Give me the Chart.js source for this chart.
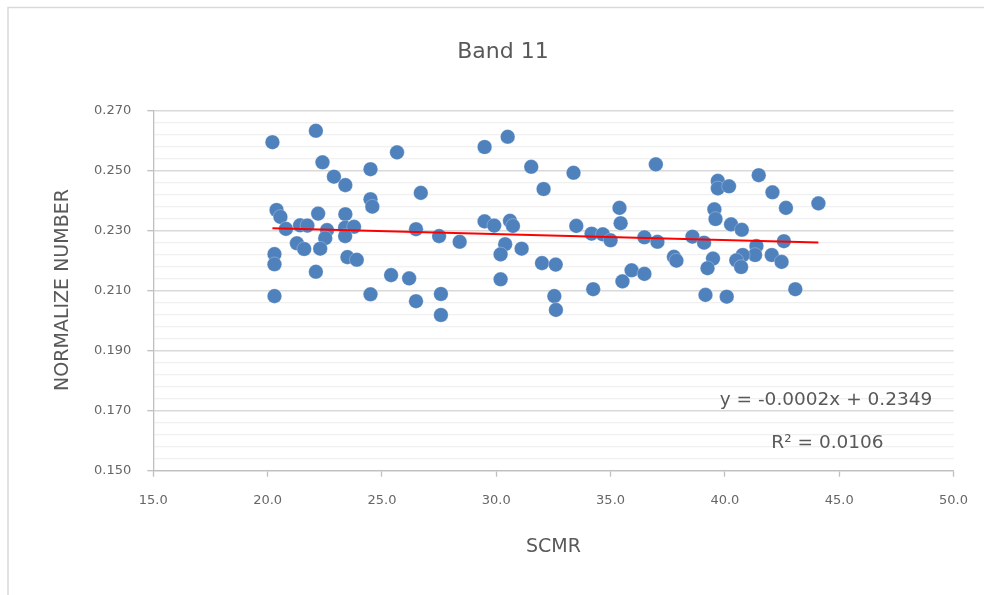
<!DOCTYPE html>
<html>
<head>
<meta charset="utf-8">
<title>Band 11</title>
<script src="https://cdn.jsdelivr.net/npm/chart.js@4.4.1/dist/chart.umd.min.js"></script>
<style>
  html, body {
    margin: 0;
    padding: 0;
    background: #ffffff;
  }
  #wrap {
    width: 984px;
    height: 595px;
    position: relative;
  }
</style>
</head>
<body>
<div id="wrap">
  <canvas id="chart" width="984" height="595"></canvas>
</div>
<script>
  const title = 'Band 11';
  const xTitle = 'SCMR';
  const yTitle = 'NORMALIZE NUMBER';

  const scmr = [
    20.21, 22.11, 22.40, 22.90, 23.40, 24.50, 25.66, 20.39, 20.56, 20.80,
    21.42, 21.74, 22.21, 22.60, 22.52, 22.30, 21.28, 21.60, 20.30, 20.30,
    22.11, 20.30, 23.40, 23.39, 23.78, 23.39, 23.49, 23.90, 24.50, 24.58,
    25.40, 24.50,
    26.70, 29.49, 30.50, 31.53, 32.07, 33.38, 36.98, 35.39, 35.44, 26.49,
    27.50, 28.40, 29.49, 29.91, 30.60, 30.73, 30.39, 30.19, 31.11, 33.50,
    34.17, 34.66, 35.00, 36.48, 37.05, 26.19, 26.49, 27.58, 27.58, 30.19,
    32.00, 32.60, 32.54, 32.61, 34.24, 35.52, 35.92, 36.48,
    38.58, 39.09, 37.77, 37.88, 39.69, 39.69, 40.18, 41.48, 42.08, 42.67,
    44.09, 39.54, 39.59, 40.27, 40.74, 42.58, 41.38, 41.32, 40.78, 40.50,
    40.71, 39.48, 39.24, 42.05, 42.48, 39.15, 40.08, 43.08,
  ];

  const normalized = [
    0.2595, 0.2633, 0.2528, 0.2480, 0.2452, 0.2505, 0.2561, 0.2369, 0.2346, 0.2306,
    0.2318, 0.2317, 0.2357, 0.2302, 0.2275, 0.2240, 0.2258, 0.2239, 0.2222, 0.2188,
    0.2163, 0.2082, 0.2355, 0.2310, 0.2313, 0.2282, 0.2212, 0.2203, 0.2405, 0.2380,
    0.2152, 0.2088,
    0.2426, 0.2579, 0.2613, 0.2513, 0.2439, 0.2493, 0.2521, 0.2376, 0.2325, 0.2305,
    0.2282, 0.2263, 0.2331, 0.2317, 0.2333, 0.2316, 0.2255, 0.2221, 0.2240, 0.2316,
    0.2290, 0.2288, 0.2268, 0.2278, 0.2263, 0.2141, 0.2065, 0.2089, 0.2019, 0.2138,
    0.2192, 0.2187, 0.2082, 0.2036, 0.2105, 0.2131, 0.2168, 0.2156,
    0.2280, 0.2260, 0.2213, 0.2200, 0.2466, 0.2441, 0.2448, 0.2485, 0.2428, 0.2376,
    0.2391, 0.2371, 0.2339, 0.2321, 0.2303, 0.2265, 0.2249, 0.2219, 0.2219, 0.2201,
    0.2179, 0.2207, 0.2175, 0.2219, 0.2196, 0.2086, 0.2080, 0.2105,
  ];

  // linear trendline as reported on the chart
  const slope = -0.0002;
  const intercept = 0.2349;
  const rSquared = 0.0106;

  const xTicks = [15, 20, 25, 30, 35, 40, 45, 50];
  const yTicks = [0.150, 0.170, 0.190, 0.210, 0.230, 0.250, 0.270];
  const yMinorStep = 0.004;

  const points = scmr.map((x, i) => ({ x, y: normalized[i] }));
  const xMin = Math.min(...scmr);
  const xMax = Math.max(...scmr);
  const trend = [xMin, xMax].map((x) => ({ x, y: slope * x + intercept }));

  const FONT = "'DejaVu Sans', sans-serif";
  const TEXT = '#595959';

  const isMajor = (value) =>
    yTicks.some((t) => Math.abs(t - value) < 1e-6);

  // outer frame, titles and trendline labels
  const decorations = {
    id: 'decorations',
    beforeDraw(chart) {
      const { ctx } = chart;
      ctx.save();
      ctx.fillStyle = '#ffffff';
      ctx.fillRect(0, 0, chart.width, chart.height);
      ctx.strokeStyle = '#d9d9d9';
      ctx.lineWidth = 1.5;
      ctx.strokeRect(8, 7.5, chart.width + 20, chart.height + 20);
      ctx.restore();
    },
    afterDraw(chart) {
      const { ctx } = chart;
      ctx.save();
      ctx.fillStyle = TEXT;
      ctx.textAlign = 'center';
      ctx.textBaseline = 'middle';

      ctx.font = `22px ${FONT}`;
      ctx.fillText(title, 503, 52);

      ctx.font = `19px ${FONT}`;
      ctx.fillText(xTitle, 553.5, 547);

      ctx.save();
      ctx.translate(63, 290);
      ctx.rotate(-Math.PI / 2);
      ctx.font = `19px ${FONT}`;
      ctx.fillText(yTitle, 0, 0);
      ctx.restore();

      ctx.font = `18.5px ${FONT}`;
      const sign = intercept >= 0 ? '+' : '-';
      ctx.fillText(
        `y = ${slope.toFixed(4)}x ${sign} ${Math.abs(intercept).toFixed(4)}`,
        826,
        400
      );
      ctx.fillText(`R² = ${rSquared.toFixed(4)}`, 827.5, 443);
      ctx.restore();
    },
  };

  new Chart(document.getElementById('chart'), {
    type: 'scatter',
    data: {
      datasets: [
        {
          label: 'Band 11',
          data: points,
          backgroundColor: '#4F81BD',
          borderColor: 'rgba(255, 255, 255, 0.45)',
          borderWidth: 0.6,
          pointRadius: 7.3,
          pointHoverRadius: 7.3,
          order: 2,
        },
        {
          label: 'Linear',
          type: 'line',
          data: trend,
          borderColor: '#FF0000',
          borderWidth: 2,
          pointRadius: 0,
          fill: false,
          order: 1,
        },
      ],
    },
    options: {
      responsive: false,
      animation: false,
      events: [],
      layout: {
        padding: { top: 110.7, right: 30, left: 0, bottom: 0 },
      },
      plugins: {
        legend: { display: false },
        title: { display: false },
        tooltip: { enabled: false },
      },
      scales: {
        x: {
          type: 'linear',
          min: 15,
          max: 50,
          afterBuildTicks(scale) {
            scale.ticks = xTicks.map((value) => ({ value }));
          },
          afterFit(scale) {
            scale.height = 595 - 470.7;
          },
          grid: {
            drawOnChartArea: false,
            drawTicks: true,
            tickLength: 6,
            tickColor: '#bfbfbf',
            tickWidth: 1.3,
          },
          border: { color: '#bfbfbf', width: 1.3 },
          ticks: {
            padding: 16,
            color: '#666666',
            font: { family: FONT, size: 13 },
            maxRotation: 0,
            autoSkip: false,
            callback: (value) => value.toFixed(1),
          },
        },
        y: {
          type: 'linear',
          min: 0.15,
          max: 0.27,
          afterBuildTicks(scale) {
            const ticks = [];
            const n = Math.round((scale.max - scale.min) / yMinorStep);
            for (let i = 0; i <= n; i++) {
              ticks.push({ value: +(scale.min + i * yMinorStep).toFixed(4) });
            }
            scale.ticks = ticks;
          },
          afterFit(scale) {
            scale.width = 153.3;
          },
          grid: {
            color: (ctx) => (isMajor(ctx.tick.value) ? '#d9d9d9' : '#f0f0f0'),
            lineWidth: (ctx) => (isMajor(ctx.tick.value) ? 1.4 : 1.2),
            tickLength: 6,
            tickColor: (ctx) =>
              isMajor(ctx.tick.value) ? '#bfbfbf' : 'rgba(0,0,0,0)',
            tickWidth: 1.3,
          },
          border: { color: '#bfbfbf', width: 1.3 },
          ticks: {
            padding: 16,
            color: '#666666',
            font: { family: FONT, size: 13 },
            autoSkip: false,
            callback: (value) => (isMajor(value) ? value.toFixed(3) : ''),
          },
        },
      },
    },
    plugins: [decorations],
  });
</script>
</body>
</html>
